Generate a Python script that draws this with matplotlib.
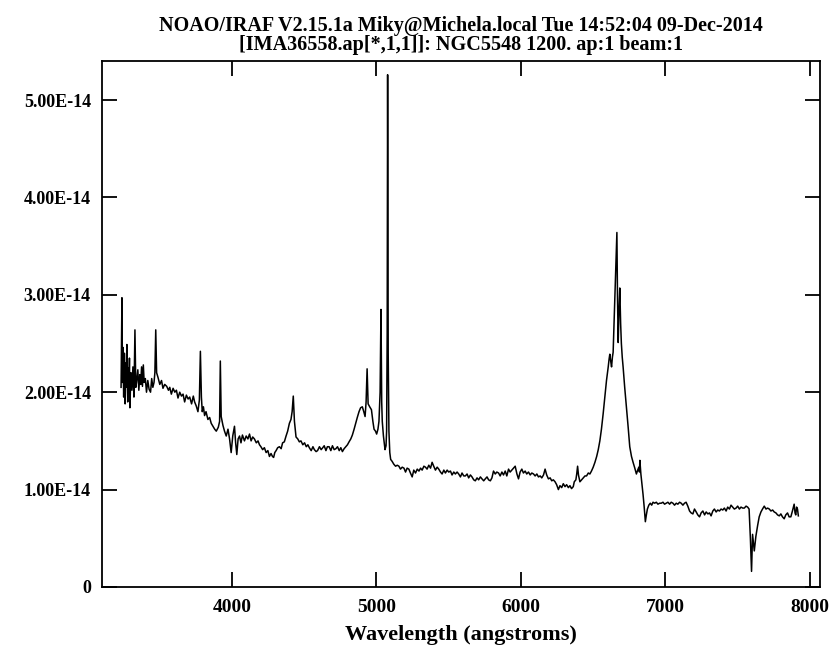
import numpy as np
import matplotlib
matplotlib.use("Agg")
import matplotlib.pyplot as plt
from matplotlib.ticker import FuncFormatter

# NGC5548 spectrum, flux in units of 1e-14
wavelength = [
    3232, 3238, 3242, 3245, 3250, 3255, 3260, 3265, 3268, 3272, 3278, 3282,
    3286, 3290, 3293, 3300, 3307, 3314, 3321, 3328, 3334, 3339, 3348, 3355,
    3362, 3368, 3374, 3380, 3386, 3392, 3400, 3408, 3417, 3426, 3436, 3444,
    3452, 3460, 3466, 3472, 3478, 3488, 3500, 3512, 3522, 3534, 3548, 3560,
    3569, 3580, 3592, 3604, 3615, 3626, 3638, 3650, 3661, 3672, 3684, 3696,
    3707, 3720, 3732, 3741, 3752, 3764, 3774, 3781, 3788, 3794, 3802, 3810,
    3820, 3833, 3845, 3856, 3868, 3880, 3891, 3905, 3914, 3919, 3925, 3937,
    3948, 3960, 3972, 3983, 3994, 4005, 4017, 4025, 4033, 4042, 4052, 4062,
    4072, 4086, 4098, 4110, 4121, 4132, 4143, 4155, 4168, 4180, 4190, 4200,
    4212, 4224, 4236, 4248, 4259, 4270, 4280, 4288, 4296, 4305, 4316, 4328,
    4340, 4350, 4362, 4374, 4385, 4397, 4408, 4416, 4424, 4432, 4443, 4455,
    4466, 4477, 4490, 4502, 4514, 4525, 4535, 4548, 4560, 4570, 4582, 4592,
    4605, 4617, 4628, 4638, 4650, 4660, 4672, 4684, 4695, 4707, 4719, 4730,
    4742, 4753, 4764, 4776, 4788, 4799, 4810, 4822, 4833, 4845, 4856, 4867,
    4879, 4890, 4902, 4912, 4921, 4928, 4935, 4942, 4953, 4965, 4975, 4983,
    4993, 5001, 5010, 5017, 5025, 5031, 5036, 5040, 5048, 5059, 5066, 5070,
    5074, 5077, 5081, 5086, 5092, 5098, 5108, 5120, 5132, 5144, 5155, 5166,
    5178, 5190, 5201, 5212, 5224, 5235, 5247, 5258, 5270, 5282, 5294, 5305,
    5316, 5328, 5339, 5350, 5362, 5374, 5385, 5396, 5408, 5420, 5431, 5443,
    5454, 5466, 5477, 5489, 5500, 5512, 5523, 5535, 5546, 5558, 5569, 5581,
    5592, 5604, 5615, 5627, 5638, 5650, 5661, 5673, 5684, 5696, 5707, 5719,
    5730, 5742, 5753, 5765, 5776, 5788, 5799, 5810, 5822, 5833, 5845, 5856,
    5868, 5879, 5891, 5902, 5914, 5925, 5937, 5948, 5960, 5972, 5983, 5994,
    6006, 6017, 6029, 6040, 6052, 6064, 6075, 6087, 6098, 6110, 6121, 6133,
    6144, 6156, 6167, 6178, 6190, 6202, 6213, 6224, 6236, 6247, 6259, 6270,
    6282, 6293, 6305, 6316, 6328, 6339, 6350, 6362, 6369, 6380, 6386, 6392,
    6398, 6408, 6420, 6431, 6443, 6454, 6466, 6477, 6488, 6500, 6512, 6524,
    6535, 6546, 6557, 6569, 6581, 6592, 6604, 6610, 6615, 6621, 6627, 6633,
    6638, 6644, 6650, 6657, 6664, 6668, 6673, 6678, 6684, 6690, 6695, 6701,
    6707, 6718, 6730, 6742, 6753, 6765, 6776, 6788, 6799, 6808, 6816, 6820,
    6823, 6827, 6830, 6838, 6845, 6853, 6861, 6868, 6875, 6885, 6895, 6905,
    6914, 6925, 6937, 6948, 6960, 6971, 6983, 6994, 7006, 7017, 7029, 7040,
    7052, 7063, 7075, 7086, 7098, 7109, 7121, 7132, 7143, 7155, 7167, 7178,
    7190, 7201, 7213, 7224, 7236, 7247, 7259, 7271, 7282, 7294, 7305, 7316,
    7328, 7339, 7351, 7362, 7374, 7385, 7397, 7408, 7420, 7431, 7443, 7454,
    7466, 7477, 7489, 7500, 7512, 7523, 7535, 7546, 7558, 7569, 7579, 7588,
    7596, 7603, 7609, 7615, 7626, 7638, 7649, 7661, 7672, 7684, 7696, 7707,
    7719, 7730, 7742, 7753, 7765, 7776, 7788, 7799, 7810, 7822, 7833, 7845,
    7856, 7868, 7879, 7891, 7897, 7902, 7908, 7914, 7920,
]
flux = [
    2.05, 2.97, 2.10, 2.46, 1.95, 2.40, 1.88, 2.30, 2.05, 2.49, 1.90, 2.25,
    2.05, 2.35, 1.84, 2.20, 2.02, 2.26, 1.95, 2.64, 2.05, 2.10, 2.23, 2.02,
    2.18, 2.08, 2.26, 2.06, 2.28, 2.10, 2.14, 2.00, 2.12, 2.03, 2.00, 2.14,
    2.05, 2.10, 2.20, 2.64, 2.20, 2.15, 2.08, 2.12, 2.04, 2.08, 2.06, 2.02,
    2.05, 1.98, 2.04, 2.00, 2.02, 1.94, 2.00, 1.96, 1.98, 1.90, 1.97, 1.93,
    1.95, 1.88, 1.96, 1.90, 1.86, 1.80, 1.92, 2.42, 1.95, 1.80, 1.85, 1.76,
    1.80, 1.72, 1.74, 1.68, 1.65, 1.62, 1.60, 1.64, 1.70, 2.32, 1.75, 1.66,
    1.60, 1.55, 1.62, 1.52, 1.38, 1.55, 1.65, 1.48, 1.36, 1.52, 1.55, 1.48,
    1.56, 1.50, 1.55, 1.52, 1.57, 1.50, 1.54, 1.52, 1.48, 1.50, 1.46, 1.44,
    1.41, 1.43, 1.38, 1.40, 1.34, 1.37, 1.34, 1.33, 1.38, 1.40, 1.43, 1.44,
    1.42, 1.48, 1.49, 1.55, 1.60, 1.68, 1.72, 1.80, 1.96, 1.70, 1.54, 1.52,
    1.49, 1.50, 1.46, 1.48, 1.44, 1.46, 1.43, 1.40, 1.44, 1.41, 1.39, 1.40,
    1.44, 1.41, 1.43, 1.45, 1.40, 1.44, 1.44, 1.40, 1.45, 1.41, 1.42, 1.44,
    1.40, 1.43, 1.39, 1.42, 1.44, 1.46, 1.49, 1.52, 1.56, 1.62, 1.68, 1.74,
    1.80, 1.84, 1.85, 1.80, 1.75, 1.90, 2.24, 1.88, 1.85, 1.82, 1.70, 1.62,
    1.60, 1.57, 1.62, 1.70, 2.00, 2.85, 1.90, 1.70, 1.55, 1.41, 1.45, 1.60,
    2.60, 5.26, 2.40, 1.60, 1.38, 1.31, 1.29, 1.26, 1.24, 1.25, 1.24, 1.21,
    1.23, 1.22, 1.18, 1.22, 1.21, 1.17, 1.13, 1.20, 1.17, 1.21, 1.19, 1.22,
    1.20, 1.24, 1.23, 1.21, 1.25, 1.22, 1.28, 1.24, 1.20, 1.23, 1.21, 1.18,
    1.16, 1.20, 1.17, 1.20, 1.18, 1.19, 1.15, 1.18, 1.16, 1.18, 1.16, 1.13,
    1.17, 1.14, 1.14, 1.16, 1.12, 1.15, 1.13, 1.10, 1.09, 1.12, 1.10, 1.13,
    1.11, 1.09, 1.11, 1.13, 1.10, 1.09, 1.12, 1.19, 1.16, 1.18, 1.17, 1.14,
    1.18, 1.15, 1.19, 1.14, 1.21, 1.18, 1.20, 1.22, 1.24, 1.16, 1.11, 1.18,
    1.21, 1.17, 1.19, 1.16, 1.18, 1.15, 1.17, 1.16, 1.14, 1.16, 1.13, 1.14,
    1.12, 1.15, 1.21, 1.15, 1.11, 1.12, 1.09, 1.10, 1.08, 1.05, 1.00, 1.04,
    1.02, 1.06, 1.03, 1.05, 1.02, 1.04, 1.01, 1.03, 1.08, 1.10, 1.16, 1.24,
    1.15, 1.08, 1.10, 1.12, 1.14, 1.14, 1.17, 1.16, 1.19, 1.23, 1.28, 1.34,
    1.41, 1.50, 1.62, 1.78, 1.96, 2.12, 2.26, 2.34, 2.39, 2.32, 2.26, 2.36,
    2.41, 2.70, 3.00, 3.30, 3.64, 3.00, 2.51, 2.80, 3.07, 2.70, 2.50, 2.36,
    2.26, 2.05, 1.85, 1.64, 1.44, 1.34, 1.28, 1.22, 1.16, 1.20, 1.23, 1.18,
    1.30, 1.22, 1.16, 1.05, 0.95, 0.82, 0.67, 0.74, 0.80, 0.84, 0.86, 0.84,
    0.87, 0.86, 0.87, 0.85, 0.86, 0.86, 0.87, 0.85, 0.86, 0.87, 0.85, 0.87,
    0.86, 0.84, 0.86, 0.85, 0.87, 0.86, 0.84, 0.86, 0.87, 0.83, 0.78, 0.76,
    0.75, 0.80, 0.77, 0.74, 0.72, 0.76, 0.78, 0.74, 0.77, 0.75, 0.76, 0.73,
    0.78, 0.80, 0.77, 0.79, 0.78, 0.80, 0.79, 0.81, 0.78, 0.82, 0.80, 0.84,
    0.82, 0.80, 0.81, 0.83, 0.80, 0.82, 0.81, 0.81, 0.83, 0.82, 0.80, 0.50,
    0.16, 0.54, 0.45, 0.37, 0.52, 0.63, 0.72, 0.77, 0.80, 0.83, 0.80, 0.81,
    0.80, 0.78, 0.79, 0.77, 0.76, 0.74, 0.73, 0.75, 0.72, 0.70, 0.74, 0.76,
    0.72, 0.72, 0.78, 0.85, 0.76, 0.74, 0.82, 0.80, 0.73,
]

x_ticks = [4000, 5000, 6000, 7000, 8000]
y_ticks = [0, 1e-14, 2e-14, 3e-14, 4e-14, 5e-14]

title_text = ("NOAO/IRAF V2.15.1a Miky@Michela.local Tue 14:52:04 09-Dec-2014\n"
              "[IMA36558.ap[*,1,1]]: NGC5548 1200. ap:1 beam:1")

wl = np.array(wavelength)
fl = np.array(flux) * 1e-14

plt.rcParams['font.family'] = ['Liberation Serif', 'DejaVu Serif']
plt.rcParams['font.weight'] = 'bold'

fig = plt.figure(figsize=(8.32, 6.5), dpi=100)
ax = fig.add_axes([0.1226, 0.097, 0.863, 0.809])

ax.plot(wl, fl, color='black', linewidth=1.1)

ax.set_xlim(3100, 8070)
ax.set_ylim(0, 5.4e-14)
ax.set_xticks(x_ticks)
ax.set_yticks(y_ticks)


def ylab(v, pos):
    if v == 0:
        return "0"
    return "{:.2E}".format(v)


ax.yaxis.set_major_formatter(FuncFormatter(ylab))
ax.tick_params(direction='in', length=11, width=1.3, top=True, right=True,
               labelsize=13, pad=8)
ax.tick_params(axis='x', labelsize=14, pad=9)
for s in ax.spines.values():
    s.set_linewidth(1.3)

ax.set_xlabel("Wavelength (angstroms)", fontsize=16, fontweight='bold', labelpad=6)
ax.set_title(title_text, fontsize=14.5, fontweight='bold', pad=8, linespacing=0.95)

fig.savefig("out.png", dpi=100)
